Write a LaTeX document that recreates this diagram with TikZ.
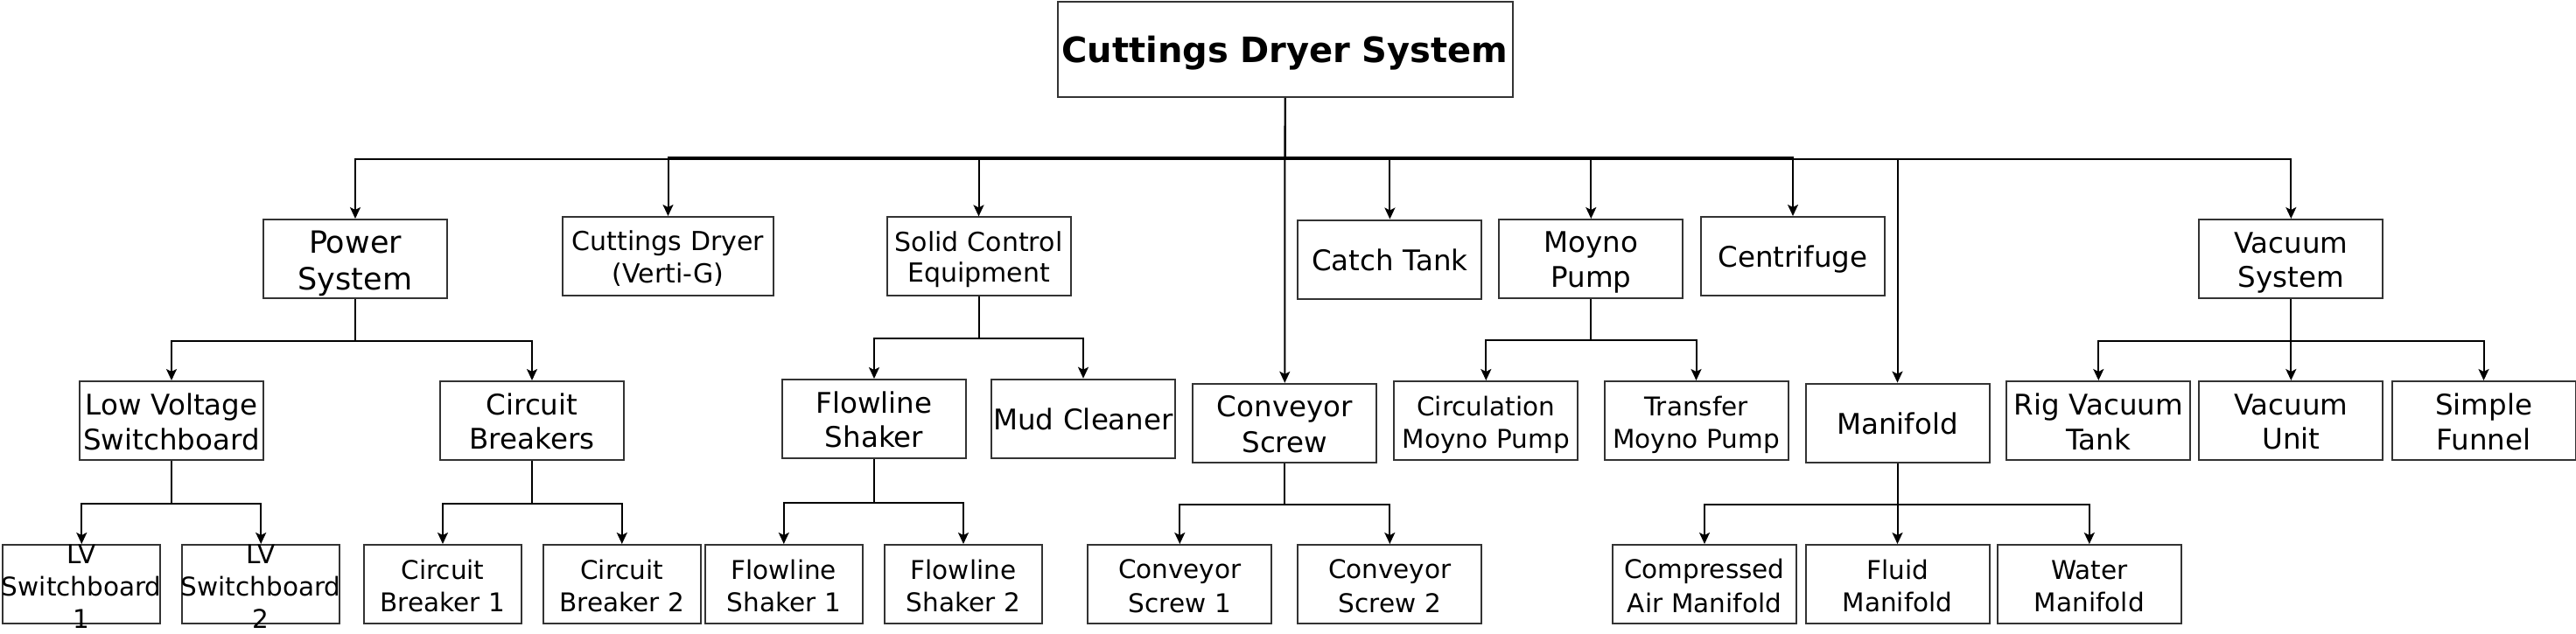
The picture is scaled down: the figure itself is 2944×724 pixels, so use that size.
\documentclass[tikz,border=0pt]{standalone}
\usepackage{fontspec}
\setmainfont{DejaVu Sans}
\usetikzlibrary{arrows.meta}
\hyphenpenalty=10000
\newcommand{\linestrut}{\rule[-0.19em]{0pt}{\baselineskip}}
\tikzset{
  box/.style={draw=black!80, line width=2pt, fill=white, align=center,
    minimum width=210pt, minimum height=90pt, inner sep=0pt, text width=210pt,
    font=\fontsize{32.5}{38.6}\selectfont,
    execute at begin node=\linestrut, execute at end node=\linestrut},
  midfont/.style={font=\fontsize{30}{35.5}\selectfont},
  smallfont/.style={font=\fontsize{29.5}{37}\selectfont},
  smallbox/.style={box, smallfont, minimum width=180pt, text width=180pt},
  overflow/.style={text height=21pt, text depth=69pt},
  conn/.style={line width=2pt, -{Stealth[length=13pt,width=12pt,inset=3pt]}},
}
\begin{document}
\begin{tikzpicture}[x=1pt,y=-1pt]
    \useasboundingbox (0,0) rectangle (2944,724);
    % top
    \node[box, minimum width=520pt, text width=520pt, minimum height=109pt,
      font=\fontsize{40}{46}\selectfont\bfseries] (root) at (1468.5,56.5) {Cuttings Dryer System};
    % first row
    \node[box, font=\fontsize{35}{42}\selectfont] (pwr) at (406,296) {Power\\System};
    \node[box, midfont, minimum width=241pt, text width=241pt] (dryer) at (763.5,293) {Cuttings Dryer\\(Verti-G)};
    \node[box, midfont] (solid) at (1118.5,293.4) {Solid Control\\Equipment};
    \node[box] (catch) at (1588.4,296.5) {Catch Tank};
    \node[box] (moyno) at (1818.3,296) {Moyno\\Pump};
    \node[box] (centri) at (2049,293) {Centrifuge};
    \node[box] (vacsys) at (2618.3,296) {Vacuum\\System};
    % second row
    \node[box] (lvsb) at (196,481) {Low Voltage\\Switchboard};
    \node[box] (cbs) at (608,481) {Circuit\\Breakers};
    \node[box] (flowsh) at (999,479) {Flowline\\Shaker};
    \node[box] (mud) at (1238,478.7) {Mud Cleaner};
    \node[box] (convey) at (1468.3,483.8) {Conveyor\\Screw};
    \node[box, smallfont] (circ) at (1698.3,481) {Circulation\\Moyno Pump};
    \node[box, smallfont] (transf) at (1938.5,481) {Transfer\\Moyno Pump};
    \node[box] (manif) at (2168.5,483.6) {Manifold};
    \node[box] (rigvac) at (2398.3,481) {Rig Vacuum\\Tank};
    \node[box] (vacunit) at (2618.3,481) {Vacuum\\Unit};
    \node[box] (funnel) at (2838.5,481) {Simple\\Funnel};
    % third row
    \node[smallbox, overflow] (lvone) at (93.3,668) {LV\\\makebox[0pt]{Switchboard}\\1};
    \node[smallbox, overflow] (lvtwo) at (298.2,668) {LV\\\makebox[0pt]{Switchboard}\\2};
    \node[smallbox] (cbone) at (506,668) {Circuit\\Breaker 1};
    \node[smallbox] (cbtwo) at (710.8,668) {Circuit\\Breaker 2};
    \node[smallbox] (fsone) at (895.8,668) {Flowline\\Shaker 1};
    \node[smallbox] (fstwo) at (1101,668) {Flowline\\Shaker 2};
    \node[box, smallfont] (csone) at (1348.3,668) {Conveyor\\Screw 1};
    \node[box, smallfont] (cstwo) at (1588.3,668) {Conveyor\\Screw 2};
    \node[box, smallfont] (airman) at (1948,668) {Compressed\\Air Manifold};
    \node[box, smallfont] (fluidman) at (2168.5,668) {Fluid\\Manifold};
    \node[box, smallfont] (waterman) at (2387.8,668) {Water\\Manifold};
    %
    \draw[conn] (root.south) -- ++(0,69.5) -| (pwr.north);
    \draw[conn] (root.south) -- ++(0,68) -| (dryer.north);
    \draw[conn] (root.south) -- ++(0,68) -| (solid.north);
    \draw[conn] (root.south) -- (convey.north);
    \draw[conn] (root.south) -- ++(0,68) -| (catch.north);
    \draw[conn] (root.south) -- ++(0,68) -| (moyno.north);
    \draw[conn] (root.south) -- ++(0,68) -| (centri.north);
    \draw[conn] (root.south) -- ++(0,69.5) -| (manif.north);
    \draw[conn] (root.south) -- ++(0,69.5) -| (vacsys.north);
    %
    \draw[conn] (pwr.south) -- ++(0,47.5) -| (lvsb.north);
    \draw[conn] (pwr.south) -- ++(0,47.5) -| (cbs.north);
    \draw[conn] (solid.south) -- ++(0,48) -| (flowsh.north);
    \draw[conn] (solid.south) -- ++(0,48) -| (mud.north);
    \draw[conn] (moyno.south) -- ++(0,47) -| (circ.north);
    \draw[conn] (moyno.south) -- ++(0,47) -| (transf.north);
    \draw[conn] (vacsys.south) -- ++(0,47.5) -| (rigvac.north);
    \draw[conn] (vacsys.south) -- (vacunit.north);
    \draw[conn] (vacsys.south) -- ++(0,47.5) -| (funnel.north);
    %
    \draw[conn] (lvsb.south) -- ++(0,48.5) -| (lvone.north);
    \draw[conn] (lvsb.south) -- ++(0,48.5) -| (lvtwo.north);
    \draw[conn] (cbs.south) -- ++(0,48.5) -| (cbone.north);
    \draw[conn] (cbs.south) -- ++(0,48.5) -| (cbtwo.north);
    \draw[conn] (flowsh.south) -- ++(0,49.5) -| (fsone.north);
    \draw[conn] (flowsh.south) -- ++(0,49.5) -| (fstwo.north);
    \draw[conn] (convey.south) -- ++(0,47.5) -| (csone.north);
    \draw[conn] (convey.south) -- ++(0,47.5) -| (cstwo.north);
    \draw[conn] (manif.south) -- ++(0,47.5) -| (airman.north);
    \draw[conn] (manif.south) -- (fluidman.north);
    \draw[conn] (manif.south) -- ++(0,47.5) -| (waterman.north);
\end{tikzpicture}
\end{document}
